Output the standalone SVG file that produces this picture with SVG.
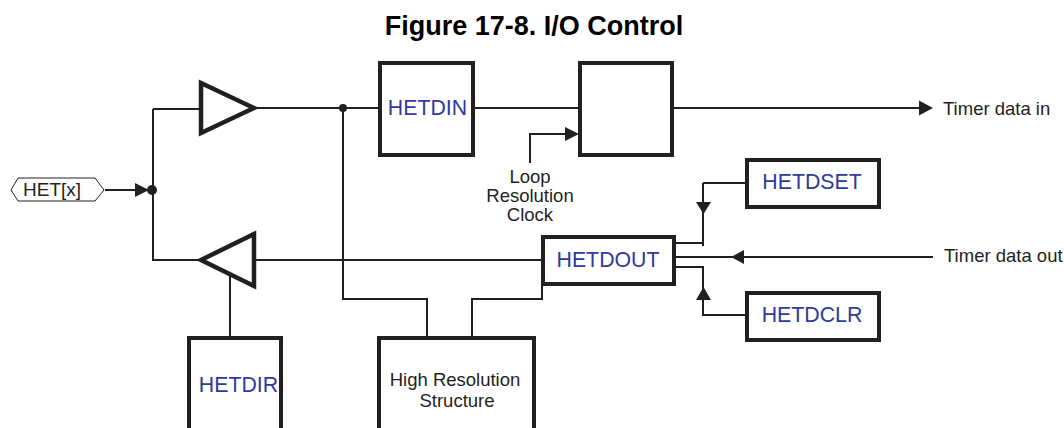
<svg xmlns="http://www.w3.org/2000/svg" width="1064" height="428" viewBox="0 0 1064 428">
<style>
text{font-family:"Liberation Sans",Arial,sans-serif;fill:#231f20;font-size:19px}
.b{fill:#2e3a9e;font-size:21.300px;text-anchor:middle}
.c{text-anchor:middle;font-size:18.500px}
.t{font-size:18.500px}
.box{fill:#fff;stroke:#231f20;stroke-width:4}
.w{fill:none;stroke:#231f20;stroke-width:2}
.a{fill:#231f20;stroke:none}
</style>
<rect width="1064" height="428" fill="#fff"/>
<text x="534" y="35" text-anchor="middle" font-weight="bold" style="font-size:27px;fill:#000">Figure 17-8. I/O Control</text>
<g id="connectors">
<path class="w" d="M105 190H140M153 109V260H200M153 109H200M254 108H380M473 108H580M343 108V299H427V338M472 338V299H542V283M672 108H922M530 163V134H566M254 260H542M230 272V338M676 243H704M703 183V246M703 183H746M676 267H704M703 267V315H746M676 257H933"/>
<path class="a" d="M135 183L149 190L135 197ZM565 127L579 134L565 141ZM919 100.500L933 108L919 115.500ZM696 202H711L703.500 214ZM744 250L731 257L744 264ZM696 300H711L703.500 287Z"/>
<circle class="a" cx="152" cy="190" r="5"/>
<circle class="a" cx="343" cy="108" r="4"/>
</g>
<g id="het-x"><path d="M11 190L18 178H95L104 190L95 201H18Z" fill="#fff" stroke="#231f20"/><text x="23" y="196">HET[x]</text></g>
<g id="buffer-in"><path d="M201 83L254 108L201 133Z" class="box" style="stroke-width:4.500"/></g>
<g id="buffer-out"><path d="M201 260L254 234V286Z" class="box" style="stroke-width:4.500"/></g>
<g id="hetdin"><rect class="box" x="380" y="63" width="93" height="92"/><text class="b" x="427.500" y="115">HETDIN</text></g>
<g id="latch"><rect class="box" x="580" y="63" width="92" height="92"/></g>
<g id="hetdset"><rect class="box" x="747" y="160" width="132" height="47"/><text class="b" x="812" y="189">HETDSET</text></g>
<g id="hetdout"><rect class="box" x="543" y="237" width="131" height="47"/><text class="b" x="608" y="267">HETDOUT</text></g>
<g id="hetdclr"><rect class="box" x="747" y="293" width="132" height="47"/><text class="b" x="812" y="322">HETDCLR</text></g>
<g id="hetdir"><path class="box" d="M189 428V338H281V428"/><text class="b" x="238.500" y="392">HETDIR</text></g>
<g id="hrs"><path class="box" d="M379 428V338H534V428"/><text class="c" x="455" y="386">High Resolution</text><text class="c" x="457" y="407">Structure</text></g>
<g id="labels">
<text class="c" x="530" y="183">Loop</text><text class="c" x="530" y="202">Resolution</text><text class="c" x="530" y="221">Clock</text>
<text class="t" x="943" y="115">Timer data in</text><text class="t" x="944" y="262">Timer data out</text>
</g>
</svg>
